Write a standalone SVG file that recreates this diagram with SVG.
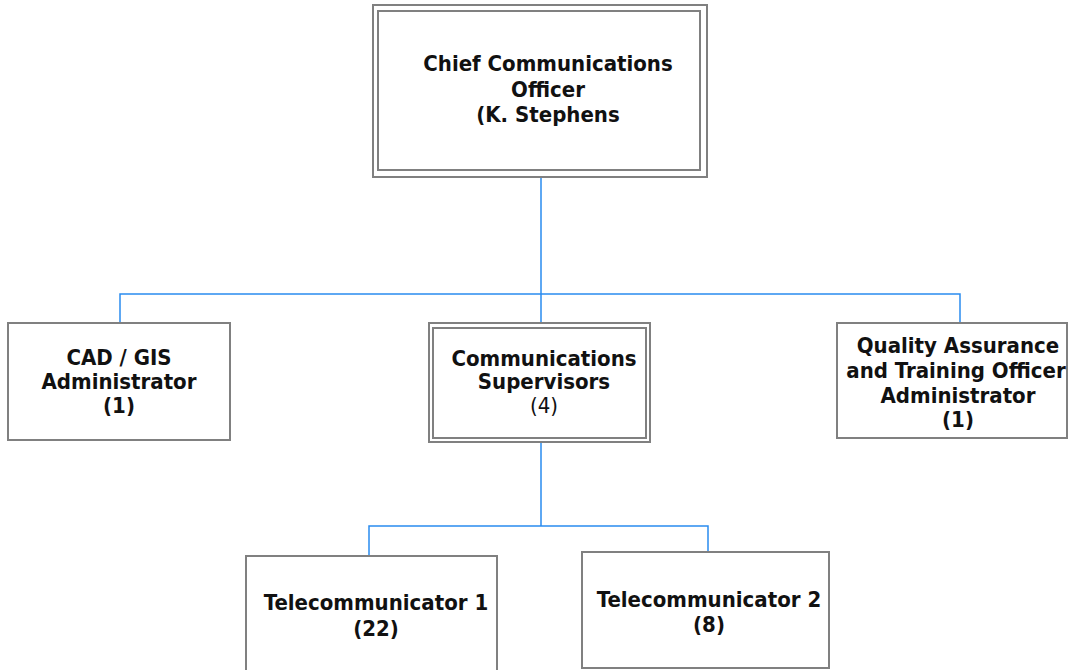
<svg xmlns="http://www.w3.org/2000/svg" width="1071" height="670" viewBox="0 0 1071 670">
<style>
.box{fill:#fff;stroke:#808080;stroke-width:2}
.inner{fill:none;stroke:#808080;stroke-width:2}
.conn{fill:none;stroke:#2a8cf0;stroke-width:1.5}
text{font-family:"DejaVu Sans Condensed","DejaVu Sans",Verdana,sans-serif;font-stretch:condensed;font-weight:bold;font-size:22px;fill:#111;text-anchor:middle}
.nb{font-weight:normal}
</style>
<rect width="1071" height="670" fill="#fff"/>
<g id="connectors">
<path class="conn" d="M541 177 V294 M120 323 V294 H960 V323 M541 294 V323"/>
<path class="conn" d="M541 442 V526 M369 556 V526 H708 V552"/>
</g>
<g id="chief">
<rect class="box" x="373" y="5" width="334" height="172"/>
<rect class="inner" x="378" y="11" width="322" height="159"/>
<text x="548" y="71">Chief Communications</text>
<text x="548" y="97">Officer</text>
<text x="548" y="122">(K. Stephens</text>
</g>
<g id="cad">
<rect class="box" x="8" y="323" width="222" height="117"/>
<text x="119" y="365">CAD / GIS</text>
<text x="119" y="389">Administrator</text>
<text x="119" y="413">(1)</text>
</g>
<g id="supervisors">
<rect class="box" x="429" y="323" width="221" height="119"/>
<rect class="inner" x="433" y="328" width="213" height="110"/>
<text x="544" y="366">Communications</text>
<text x="544" y="389">Supervisors</text>
<text class="nb" x="544" y="413">(4)</text>
</g>
<g id="qa">
<rect class="box" x="837" y="323" width="230" height="115"/>
<text x="958" y="353">Quality Assurance</text>
<text x="956" y="378">and Training Officer</text>
<text x="958" y="403">Administrator</text>
<text x="958" y="427">(1)</text>
</g>
<g id="tele1">
<rect class="box" x="246" y="556" width="251" height="120"/>
<text x="376" y="610">Telecommunicator 1</text>
<text x="376" y="636">(22)</text>
</g>
<g id="tele2">
<rect class="box" x="582" y="552" width="247" height="116"/>
<text x="709" y="607">Telecommunicator 2</text>
<text x="709" y="632">(8)</text>
</g>
</svg>
